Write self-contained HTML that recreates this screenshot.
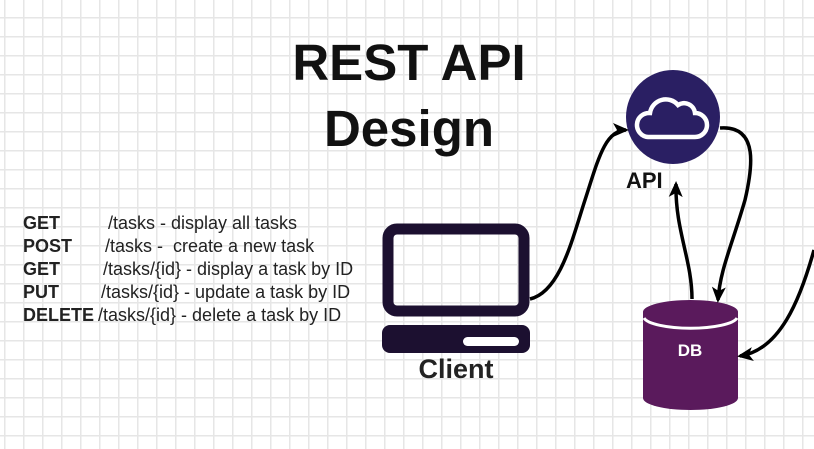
<!DOCTYPE html>
<html><head><style>
body{margin:0;width:814px;height:449px;overflow:hidden;background:#fff;font-family:"Liberation Sans",sans-serif;}
.g{position:absolute;left:0;top:0;width:814px;height:449px;
background-image:linear-gradient(to right,#e6e6e6 1.5px,transparent 1.5px),linear-gradient(to bottom,#e6e6e6 1.5px,transparent 1.5px);
background-size:19px 19px;background-position:4px -2px;}
.t{position:absolute;font-size:18px;color:#222;white-space:pre;}
</style></head><body>
<div class="g"></div>
<div style="position:absolute;left:0;width:814px;top:30px;text-align:center;font-weight:bold;font-size:51px;color:#111;line-height:66px;padding-left:2px">REST API<br>Design</div>
<div class="t" style="left:23px;top:213px"><b>GET</b></div><div class="t" style="left:108px;top:213px">/tasks - display all tasks</div>
<div class="t" style="left:23px;top:236px"><b>POST</b></div><div class="t" style="left:105px;top:236px">/tasks -  create a new task</div>
<div class="t" style="left:23px;top:259px"><b>GET</b></div><div class="t" style="left:103px;top:259px">/tasks/{id} - display a task by ID</div>
<div class="t" style="left:23px;top:282px"><b>PUT</b></div><div class="t" style="left:101px;top:282px">/tasks/{id} - update a task by ID</div>
<div class="t" style="left:23px;top:305px"><b>DELETE</b></div><div class="t" style="left:98px;top:305px">/tasks/{id} - delete a task by ID</div>
<svg width="814" height="449" style="position:absolute;left:0;top:0">
<defs>
<marker id="b" markerWidth="16" markerHeight="16" refX="13" refY="8" orient="auto" markerUnits="userSpaceOnUse"><path d="M0,1 L16,8 L0,15 L4,8 z" fill="#000"/></marker></defs>
<rect x="388" y="229" width="136" height="82" rx="9" fill="none" stroke="#1c1030" stroke-width="11"/>
<rect x="382" y="325" width="148" height="28" rx="8" fill="#1c1030"/>
<rect x="463" y="337" width="56" height="9" rx="4.5" fill="#fff"/>
<text x="456" y="378" text-anchor="middle" font-weight="bold" font-size="27" fill="#222">Client</text>
<circle cx="673" cy="117" r="47" fill="#2a1f63"/>
<path d="M648,137 a12,12 0 0 1 2,-24 a16,16 0 0 1 28,-8 a11,11 0 0 1 17,8 a12,12 0 0 1 0,24 z" fill="none" stroke="#fff" stroke-width="4.5"/>
<text x="626" y="188" font-weight="bold" font-size="22" fill="#111">API</text>
<path d="M643,312 L643,398 A47.5,12 0 0 0 738,398 L738,312 z" fill="#5a1a5c"/>
<ellipse cx="690.5" cy="312" rx="47.5" ry="12" fill="#5a1a5c"/>
<path d="M644,318 A47,12 0 0 0 737,318" fill="none" stroke="#fff" stroke-width="3"/>
<text x="690" y="356" text-anchor="middle" font-weight="bold" font-size="17" fill="#fff">DB</text>
<g fill="none" stroke="#000" stroke-width="3.5">
<path d="M530,299 C560,292 572,240 585,200 C598,160 605,130 626,130" marker-end="url(#b)"/>
<path d="M720,128 C760,125 752,170 745,200 C732,245 720,270 718,300" marker-end="url(#b)"/>
<path d="M692,299 C692,260 675,230 676,184" marker-end="url(#b)"/>
<path d="M814,250 C800,300 780,350 740,356" marker-end="url(#b)"/>
</g>
</svg>
</body></html>
